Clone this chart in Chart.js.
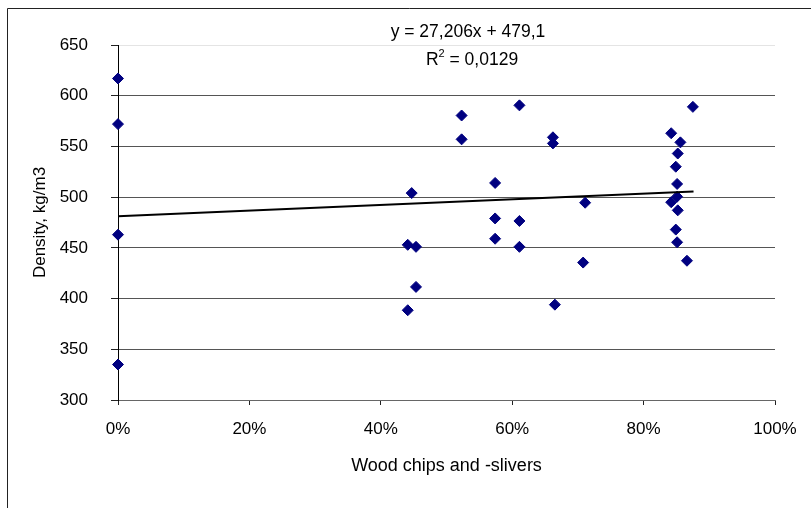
<!DOCTYPE html>
<html>
<head>
<meta charset="utf-8">
<script src="https://cdn.jsdelivr.net/npm/chart.js@4/dist/chart.umd.min.js"></script>
<style>
  html, body { margin: 0; padding: 0; background: #fff; }
  canvas { display: block; }
</style>
</head>
<body>
<canvas id="c" width="811" height="508"></canvas>
<script>
// ---- data ----
const woodShare = [
  0, 0, 0, 0,
  0.441, 0.441, 0.447, 0.4536, 0.4536,
  0.523, 0.523,
  0.574, 0.574, 0.574,
  0.611, 0.611, 0.611,
  0.662, 0.662, 0.665,
  0.711, 0.708,
  0.875, 0.842, 0.856, 0.852, 0.849, 0.851, 0.851, 0.842, 0.852, 0.849, 0.851, 0.866
];
const density = [
  617, 572, 463, 335,
  453, 388.5, 504, 451, 411.5,
  580.5, 557,
  514, 479, 459,
  590.5, 476.5, 451,
  559, 553, 394,
  494.5, 435.5,
  589, 563, 554, 543, 530, 513, 500.5, 495, 487, 468, 455.5, 437.3
];
const trendX = [0, 0.876];
const trendY = [481.2, 505.5];
const yTicks = [300, 350, 400, 450, 500, 550, 600, 650];
const xTicks = [0, 0.2, 0.4, 0.6, 0.8, 1];
const equationText = 'y = 27,206x + 479,1';
const r2Label = 'R';
const r2Sup = '2';
const r2Value = ' = 0,0129';
const xTitle = 'Wood chips and -slivers';
const yTitle = 'Density, kg/m3';

const FONT = "'Liberation Sans', Arial, Helvetica, sans-serif";

const framePlugin = {
  id: 'frame',
  afterDraw(chart) {
    const ctx = chart.ctx;
    ctx.save();
    ctx.strokeStyle = '#222';
    ctx.lineWidth = 1;
    ctx.beginPath();
    ctx.moveTo(7.5, 520);
    ctx.lineTo(7.5, 8.5);
    ctx.lineTo(820, 8.5);
    ctx.stroke();
    // regression label
    ctx.fillStyle = '#000';
    ctx.font = '17.5px ' + FONT;
    ctx.textBaseline = 'alphabetic';
    ctx.textAlign = 'center';
    ctx.fillText(equationText, 468, 37);
    // R² line
    ctx.textAlign = 'left';
    const wR = ctx.measureText(r2Label).width;
    const wV = ctx.measureText(r2Value).width;
    ctx.font = '11px ' + FONT;
    const wS = ctx.measureText(r2Sup).width;
    const total = wR + wS + wV;
    let x0 = 472 - total / 2;
    ctx.font = '17.5px ' + FONT;
    ctx.fillText(r2Label, x0, 64.5);
    ctx.font = '11px ' + FONT;
    ctx.fillText(r2Sup, x0 + wR, 57);
    ctx.font = '17.5px ' + FONT;
    ctx.fillText(r2Value, x0 + wR + wS, 64.5);
    ctx.restore();
  }
};

new Chart(document.getElementById('c'), {
  type: 'scatter',
  data: {
    datasets: [
      {
        type: 'line',
        data: trendX.map((x, i) => ({ x: x, y: trendY[i] })),
        borderColor: '#000',
        borderWidth: 2,
        pointRadius: 0,
        fill: false,
        clip: false,
        order: 0
      },
      {
        type: 'scatter',
        data: woodShare.map((x, i) => ({ x: x, y: density[i] })),
        pointStyle: 'rectRot',
        pointRadius: 5.5,
        backgroundColor: '#000080',
        borderColor: '#000080',
        borderWidth: 1,
        clip: false,
        order: 1
      }
    ]
  },
  options: {
    responsive: false,
    animation: false,
    events: [],
    layout: { padding: { left: 0, right: 36, top: 45, bottom: 0 } },
    plugins: { legend: { display: false }, tooltip: { enabled: false } },
    scales: {
      x: {
        type: 'linear',
        min: 0,
        max: 1,
        afterFit(s) { s.height = 108; },
        afterBuildTicks(s) { s.ticks = xTicks.map(v => ({ value: v })); },
        ticks: {
          color: '#000',
          font: { family: FONT, size: 17 },
          padding: 14,
          maxRotation: 0,
          callback: v => Math.round(v * 100) + '%'
        },
        grid: { drawOnChartArea: false, drawTicks: true, tickLength: 5, tickColor: '#222' },
        border: { color: '#666', width: 1 },
        title: {
          display: true,
          text: xTitle,
          color: '#000',
          font: { family: FONT, size: 18 },
          padding: { top: 0, bottom: 31 }
        }
      },
      y: {
        type: 'linear',
        min: 300,
        max: 650,
        afterFit(s) { s.width = 118; },
        afterBuildTicks(s) { s.ticks = yTicks.map(v => ({ value: v })); },
        ticks: {
          color: '#000',
          font: { family: FONT, size: 17 },
          padding: 23
        },
        grid: {
          drawOnChartArea: true,
          drawTicks: true,
          tickLength: 7,
          tickColor: '#222',
          color: c => (c.tick && c.tick.value === 650) ? '#e4e4e4' : '#555',
          lineWidth: 1
        },
        border: { color: '#000', width: 1 },
        title: {
          display: true,
          text: yTitle,
          color: '#000',
          font: { family: FONT, size: 17 },
          padding: { top: 30, bottom: 0 }
        }
      }
    }
  },
  plugins: [framePlugin]
});
</script>
</body>
</html>
